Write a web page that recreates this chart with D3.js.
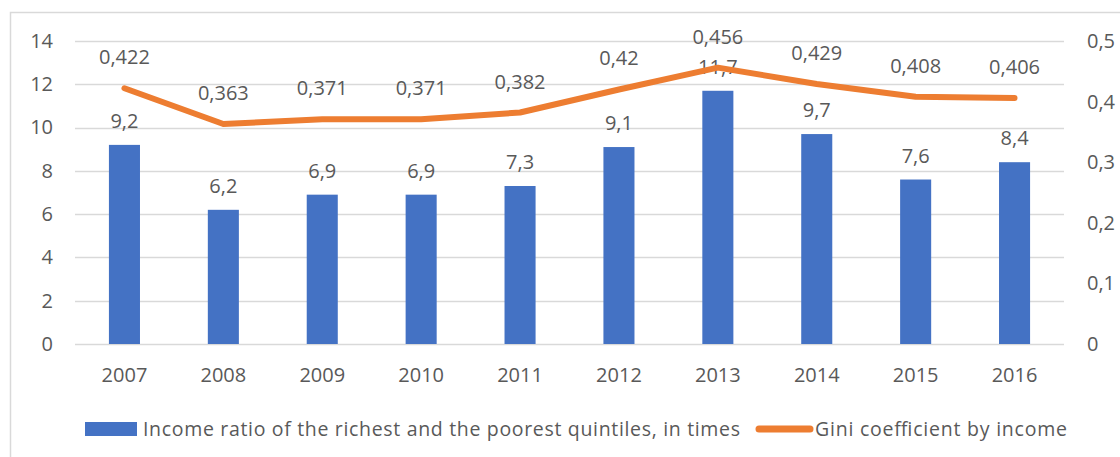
<!DOCTYPE html>
<html>
<head>
<meta charset="utf-8">
<script src="https://cdn.jsdelivr.net/npm/d3@7"></script>
<style>
  html, body { margin: 0; padding: 0; background: #fff; }
  svg text { font-family: "Open Sans", "Noto Sans", sans-serif; fill: #595959; }
</style>
</head>
<body>
<svg id="chart" width="1120" height="457"></svg>
<script>
// Categories and series
const years = ["2007", "2008", "2009", "2010", "2011", "2012", "2013", "2014", "2015", "2016"];
const incomeRatio = [9.2, 6.2, 6.9, 6.9, 7.3, 9.1, 11.7, 9.7, 7.6, 8.4];
const gini = [0.422, 0.363, 0.371, 0.371, 0.382, 0.42, 0.456, 0.429, 0.408, 0.406];
const leftTicks = [0, 2, 4, 6, 8, 10, 12, 14];
const rightTicks = [0, 0.1, 0.2, 0.3, 0.4, 0.5];
const seriesNames = ["Income ratio of the richest and the poorest quintiles, in times", "Gini coefficient by income"];

const BLUE = "#4472C4", ORANGE = "#ED7D31", GRID = "#d9d9d9";
const plot = { left: 75, right: 1064, top: 41, bottom: 344 };

const fmt = v => String(v).replace(".", ",");

const svg = d3.select("#chart");

// Chart-area border
svg.append("rect")
  .attr("x", 10.5).attr("y", 12.5)
  .attr("width", 1200).attr("height", 600)
  .attr("fill", "none").attr("stroke", GRID).attr("stroke-width", 1.5);

const x = d3.scaleBand().domain(years)
  .range([plot.left, plot.right])
  .paddingInner(0.686).paddingOuter(0.343);
const yL = d3.scaleLinear().domain([0, 14]).range([plot.bottom, plot.top]);
const yR = d3.scaleLinear().domain([0, 0.5]).range([plot.bottom, plot.top]);

// Gridlines
svg.append("g").selectAll("line").data(leftTicks).join("line")
  .attr("x1", plot.left).attr("x2", plot.right)
  .attr("y1", d => Math.round(yL(d)) + 0.5).attr("y2", d => Math.round(yL(d)) + 0.5)
  .attr("stroke", GRID).attr("stroke-width", 1.5);

// Left axis labels
const axL = svg.append("g").attr("transform", `translate(${53},0)`)
  .call(d3.axisLeft(yL).tickValues(leftTicks).tickSize(0).tickPadding(0).tickFormat(fmt));
axL.select(".domain").remove();
axL.selectAll("text").attr("font-size", 20).attr("font-family", null);

// Right axis labels
const axR = svg.append("g").attr("transform", `translate(${1087},0)`)
  .call(d3.axisRight(yR).tickValues(rightTicks).tickSize(0).tickPadding(0).tickFormat(fmt));
axR.select(".domain").remove();
axR.selectAll("text").attr("font-size", 20).attr("font-family", null);

// Bottom axis labels
const axB = svg.append("g").attr("transform", `translate(0,${plot.bottom})`)
  .call(d3.axisBottom(x).tickSize(0).tickPadding(24));
axB.select(".domain").remove();
axB.selectAll("text").attr("font-size", 20).attr("font-family", null);

// Bars
svg.append("g").selectAll("rect").data(incomeRatio).join("rect")
  .attr("x", (d, i) => x(years[i]))
  .attr("width", x.bandwidth())
  .attr("y", d => yL(d))
  .attr("height", d => yL(0) - yL(d))
  .attr("fill", BLUE);

// Bar value labels
svg.append("g").selectAll("text").data(incomeRatio).join("text")
  .attr("x", (d, i) => x(years[i]) + x.bandwidth() / 2)
  .attr("y", d => yL(d) - 17)
  .attr("text-anchor", "middle")
  .attr("font-size", 20)
  .text(fmt);

// Gini line
const line = d3.line()
  .x((d, i) => x(years[i]) + x.bandwidth() / 2)
  .y(d => yR(d));
svg.append("path").datum(gini)
  .attr("d", line)
  .attr("fill", "none").attr("stroke", ORANGE)
  .attr("stroke-width", 6).attr("stroke-linecap", "round").attr("stroke-linejoin", "round");

// Gini value labels
svg.append("g").selectAll("text").data(gini).join("text")
  .attr("x", (d, i) => x(years[i]) + x.bandwidth() / 2)
  .attr("y", d => yR(d) - 24)
  .attr("text-anchor", "middle")
  .attr("font-size", 20)
  .text(fmt);

// Legend
const lg = svg.append("g");
lg.append("rect").attr("x", 85).attr("y", 422).attr("width", 52).attr("height", 14).attr("fill", BLUE);
lg.append("text").attr("x", 143).attr("y", 436).attr("font-size", 19.5)
  .attr("textLength", 597).attr("lengthAdjust", "spacing").text(seriesNames[0]);
lg.append("line").attr("x1", 759).attr("x2", 810).attr("y1", 429).attr("y2", 429)
  .attr("stroke", ORANGE).attr("stroke-width", 7).attr("stroke-linecap", "round");
lg.append("text").attr("x", 815).attr("y", 436).attr("font-size", 19.5)
  .attr("textLength", 252).attr("lengthAdjust", "spacing").text(seriesNames[1]);
</script>
</body>
</html>
